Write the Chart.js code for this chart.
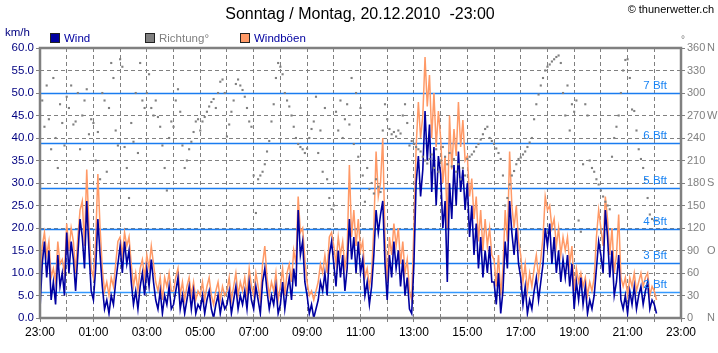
<!DOCTYPE html>
<html>
<head>
<meta charset="utf-8">
<title>Wind Thun</title>
<script src="https://cdn.jsdelivr.net/npm/chart.js"></script>
<style>
  html, body { margin: 0; padding: 0; background: #fff; }
  #wrap { width: 718px; height: 353px; }
</style>
</head>
<body>
<div id="wrap"><canvas id="windChart" width="718" height="353"></canvas></div>

<script>
const titleText = 'Sonntag / Montag, 20.12.2010  -23:00';
const hourLabels = ['23:00', '00:00', '01:00', '02:00', '03:00', '04:00', '05:00', '06:00', '07:00',
  '08:00', '09:00', '10:00', '11:00', '12:00', '13:00', '14:00', '15:00', '16:00', '17:00',
  '18:00', '19:00', '20:00', '21:00', '22:00', '23:00'];
const stepMinutes = 5;

// km/h, one row per hour starting 23:00
const wind = [
  2, 12, 17, 9, 15, 4, 8, 3, 14, 7, 10, 5,
  19, 10, 17, 13, 6, 14, 22, 18, 11, 26, 15, 6,
  4, 11, 22, 14, 7, 2, 4, 1, 5, 3, 8, 12,
  16, 10, 17, 12, 15, 8, 3, 6, 2, 7, 10, 5,
  11, 7, 13, 8, 4, 2, 6, 1, 5, 3, 7, 2,
  3, 6, 9, 2, 5, 1, 4, 7, 2, 6, 1, 3,
  2, 5, 1, 4, 6, 2, 0, 3, 5, 1, 4, 2,
  3, 6, 1, 4, 7, 2, 5, 3, 6, 2, 8, 4,
  2, 7, 4, 1, 8, 11, 6, 2, 5, 3, 7, 1,
  3, 8, 2, 6, 9, 4, 11, 7, 24, 14, 17, 8,
  5, 1, 3, 0, 2, 4, 8, 6, 10, 5, 14, 17,
  12, 7, 15, 9, 14, 6, 11, 22, 13, 18, 10, 17,
  10, 13, 5, 8, 3, 7, 14, 24, 19, 23, 26, 12,
  4, 14, 9, 17, 11, 15, 7, 13, 5, 9, 2, 1,
  12, 30, 36, 27, 33, 46, 35, 43, 28, 38, 25, 36,
  32, 20, 26, 8, 30, 22, 34, 25, 37, 28, 33, 24,
  30, 18, 25, 14, 21, 11, 18, 9, 15, 10, 16, 8,
  8, 3, 10, 1, 6, 17, 11, 26, 19, 14, 20, 12,
  9, 3, 7, 1, 4, 2, 6, 9, 4, 8, 12, 20,
  16, 21, 12, 18, 10, 15, 8, 13, 9, 14, 7, 12,
  2, 8, 4, 9, 3, 7, 1, 4, 2, 5, 11, 17,
  14, 10, 24, 18, 9, 15, 5, 8, 14, 4, 2, 5,
  1, 6, 3, 7, 2, 5, 7, 3, 6, 8, 2, 4,
  3, 1
];

const gusts = [
  7, 16, 19, 14, 17, 9, 11, 8, 17, 12, 13, 10,
  21, 15, 20, 17, 10, 18, 24, 26, 16, 33, 20, 11,
  9, 17, 32, 20, 11, 6, 8, 5, 9, 7, 12, 17,
  18, 14, 19, 16, 18, 12, 7, 10, 6, 11, 13, 9,
  14, 11, 16, 12, 8, 6, 9, 4, 9, 7, 10, 6,
  6, 9, 11, 5, 8, 4, 7, 9, 5, 8, 4, 6,
  5, 8, 4, 7, 9, 5, 3, 6, 8, 4, 7, 5,
  6, 9, 4, 7, 10, 5, 8, 6, 9, 5, 11, 7,
  5, 10, 7, 4, 12, 16, 9, 5, 8, 6, 10, 4,
  7, 11, 5, 10, 12, 8, 15, 12, 27, 19, 20, 13,
  8, 5, 6, 4, 6, 8, 12, 10, 14, 10, 18, 19,
  16, 12, 18, 14, 17, 11, 15, 34, 18, 24, 16, 22,
  15, 17, 9, 11, 7, 10, 20, 37, 27, 30, 40, 18,
  8, 18, 14, 21, 16, 20, 12, 17, 10, 13, 6, 4,
  20, 38, 48, 40, 45, 58, 47, 54, 40, 50, 38, 46,
  40, 30, 36, 20, 45, 33, 42, 36, 48, 38, 44, 35,
  36, 27, 31, 22, 27, 17, 24, 15, 22, 16, 20, 14,
  13, 7, 14, 5, 11, 24, 17, 37, 25, 20, 25, 17,
  14, 8, 12, 6, 10, 7, 11, 14, 9, 13, 18, 27,
  24, 25, 20, 22, 16, 20, 14, 18, 15, 18, 12, 16,
  6, 11, 8, 10, 7, 9, 5, 8, 6, 9, 18, 24,
  20, 16, 27, 22, 14, 20, 10, 14, 23, 9, 7, 9,
  5, 9, 7, 10, 6, 8, 10, 7, 9, 10, 5, 7,
  6, 4
];

// degrees
const direction = [
  272, 290, 255, 310, 265, 225, 320, 240, 200, 285, 260, 230,
  295, 280, 310, 258, 262, 300, 225, 270, 290, 305, 245, 265,
  260, 210, 248, 185, 300, 290, 195, 280, 340, 320, 250, 230,
  345, 335, 228, 200, 160, 260, 235, 300, 220, 340, 290, 280,
  300, 325, 280, 270, 290, 268, 255, 230, 200, 170, 240, 262,
  255, 290, 305, 275, 230, 200, 210, 225, 235, 248, 262, 265,
  250, 262, 268, 275, 282, 288, 292, 280, 300, 315, 318, 300,
  242, 258, 275, 290, 312, 318, 310, 304, 295, 280, 262, 255,
  190, 140, 185, 190, 195, 205, 222, 236, 262, 285, 320, 340,
  335, 325, 300, 290, 282, 270, 255, 240, 232, 228, 225, 220,
  226, 240, 252, 262, 295, 220, 250, 195, 280, 185, 160, 145,
  150, 275, 250, 290, 240, 265, 285, 258, 320, 232, 300, 215,
  280, 190, 155, 200, 172, 180, 166, 185, 175, 168, 250, 285,
  265, 252, 245, 248, 242, 250, 246, 270, 285, 260, 230, 236,
  232, 228, 225, 222, 215, 210, 206, 212, 218, 200, 225, 195,
  210, 228, 215, 205, 220, 202, 212, 195, 205, 185, 200, 190,
  212, 215, 218, 222, 228, 232, 238, 245, 252, 255, 240, 236,
  232, 226, 220, 212, 190, 150, 160, 178, 190, 196, 205, 212,
  214, 218, 222, 228, 234, 240, 265, 285, 298, 310, 320, 330,
  335, 338, 342, 345, 348, 350, 340, 300, 270, 310, 250, 285,
  275, 290, 130, 115, 205, 285, 270, 210, 200, 195, 185, 178,
  170, 162, 155, 150, 145, 215, 240, 255, 270, 300, 330, 344,
  345, 320, 278, 276, 250, 225, 212, 200, 185, 160, 138, 132,
  130, 130
];

const bftLevels = [5.8, 12.2, 19.8, 28.8, 38.9, 50.0];
const bftNames = ['2 Bft', '3 Bft', '4 Bft', '5 Bft', '6 Bft', '7 Bft'];
const compass = { 0: 'N', 90: 'O', 180: 'S', 270: 'W', 360: 'N' };

const FONT = '"Liberation Sans", Arial, sans-serif';

function toPoints(arr) {
  return arr.map((v, i) => ({ x: i * stepMinutes / 60, y: v }));
}

const decor = {
  id: 'decor',
  beforeDatasetsDraw(chart) {
    const { ctx, chartArea: a, scales: { y } } = chart;
    ctx.save();
    bftLevels.forEach((v, i) => {
      const py = Math.round(y.getPixelForValue(v)) + 0.5;
      ctx.strokeStyle = i === 0 ? '#3399ff' : '#1a7cf0';
      ctx.lineWidth = 1.5;
      ctx.beginPath();
      ctx.moveTo(a.left, py);
      ctx.lineTo(a.right, py);
      ctx.stroke();
    });
    ctx.restore();
  },
  afterDraw(chart) {
    const { ctx, chartArea: a, scales: { y, y2 } } = chart;
    ctx.save();

    // beaufort labels
    ctx.font = '11.5px ' + FONT;
    ctx.fillStyle = '#1a84f4';
    ctx.textAlign = 'right';
    ctx.textBaseline = 'alphabetic';
    bftLevels.forEach((v, i) => {
      ctx.fillText(bftNames[i], 667, y.getPixelForValue(v) - 4);
    });

    // frame
    ctx.strokeStyle = '#808080';
    ctx.lineWidth = 2.5;
    ctx.strokeRect(a.left, a.top, a.right - a.left, a.bottom - a.top);

    // compass letters on the right axis
    ctx.fillStyle = '#808080';
    ctx.textAlign = 'left';
    ctx.textBaseline = 'middle';
    ctx.font = '11px ' + FONT;
    Object.keys(compass).forEach(d => {
      ctx.fillText(compass[d], 707, y2.getPixelForValue(+d));
    });
    ctx.font = '10px ' + FONT;
    ctx.fillText('°', 681, 40);

    // title + copyright
    ctx.fillStyle = '#000';
    ctx.textAlign = 'center';
    ctx.font = '16px ' + FONT;
    ctx.fillText(titleText, 360, 15);
    ctx.textAlign = 'right';
    ctx.font = '11px ' + FONT;
    ctx.fillText('© thunerwetter.ch', 714, 10);

    // unit
    ctx.textAlign = 'left';
    ctx.font = '11.5px ' + FONT;
    ctx.fillStyle = '#000080';
    ctx.fillText('km/h', 5, 33);

    // legend
    const items = [
      { x: 50, fill: '#0000a0', text: 'Wind', color: '#0000a0' },
      { x: 145, fill: '#808080', text: 'Richtung°', color: '#808080' },
      { x: 240, fill: '#ff9966', text: 'Windböen', color: '#0000a0' }
    ];
    items.forEach(it => {
      ctx.fillStyle = it.fill;
      ctx.fillRect(it.x, 33, 10, 10);
      ctx.strokeStyle = '#222';
      ctx.lineWidth = 1;
      ctx.strokeRect(it.x + 0.5, 33.5, 9, 9);
      ctx.fillStyle = it.color;
      ctx.fillText(it.text, it.x + 14, 38.5);
    });
    ctx.restore();
  }
};

const gridOpts = {
  color: '#808080',
  lineWidth: 1,
  tickLength: 4,
  tickColor: '#808080'
};

new Chart(document.getElementById('windChart'), {
  type: 'line',
  data: {
    datasets: [
      {
        label: 'Richtung°',
        data: toPoints(direction),
        yAxisID: 'y2',
        showLine: false,
        pointStyle: 'rect',
        pointRadius: 1.5,
        pointBackgroundColor: '#808080',
        pointBorderWidth: 0,
        order: 0
      },
      {
        label: 'Wind',
        data: toPoints(wind),
        yAxisID: 'y',
        borderColor: '#0000a0',
        borderWidth: 1.6,
        pointRadius: 0,
        tension: 0,
        order: 1
      },
      {
        label: 'Windböen',
        data: toPoints(gusts),
        yAxisID: 'y',
        borderColor: '#ff9966',
        borderWidth: 1.5,
        pointRadius: 0,
        tension: 0,
        order: 2
      }
    ]
  },
  options: {
    responsive: false,
    animation: false,
    devicePixelRatio: 1,
    layout: { padding: { top: 48, left: 0, right: 0, bottom: 0 } },
    plugins: { legend: { display: false }, tooltip: { enabled: false }, title: { display: false } },
    scales: {
      x: {
        type: 'linear',
        min: 0,
        max: 24,
        afterFit: s => { s.height = 35; },
        ticks: {
          stepSize: 1,
          autoSkip: false,
          maxRotation: 0,
          padding: 3,
          color: '#000',
          font: { family: FONT, size: 12 },
          callback: v => (v % 2 === 0 ? hourLabels[v] : '')
        },
        grid: gridOpts,
        border: { display: false, dash: [4, 3] }
      },
      y: {
        position: 'left',
        min: 0,
        max: 60,
        afterFit: s => { s.width = 40; },
        ticks: {
          stepSize: 5,
          autoSkip: false,
          padding: 2,
          color: '#000080',
          font: { family: FONT, size: 11.5 },
          callback: v => v.toFixed(1)
        },
        grid: gridOpts,
        border: { display: false, dash: [4, 3] }
      },
      y2: {
        position: 'right',
        min: 0,
        max: 360,
        afterFit: s => { s.width = 37; },
        ticks: {
          stepSize: 30,
          autoSkip: false,
          padding: 2,
          color: '#808080',
          font: { family: FONT, size: 11 },
          callback: v => String(v)
        },
        grid: { drawOnChartArea: false, tickLength: 4, color: '#808080' },
        border: { display: false }
      }
    }
  },
  plugins: [decor]
});
</script>
</body>
</html>
